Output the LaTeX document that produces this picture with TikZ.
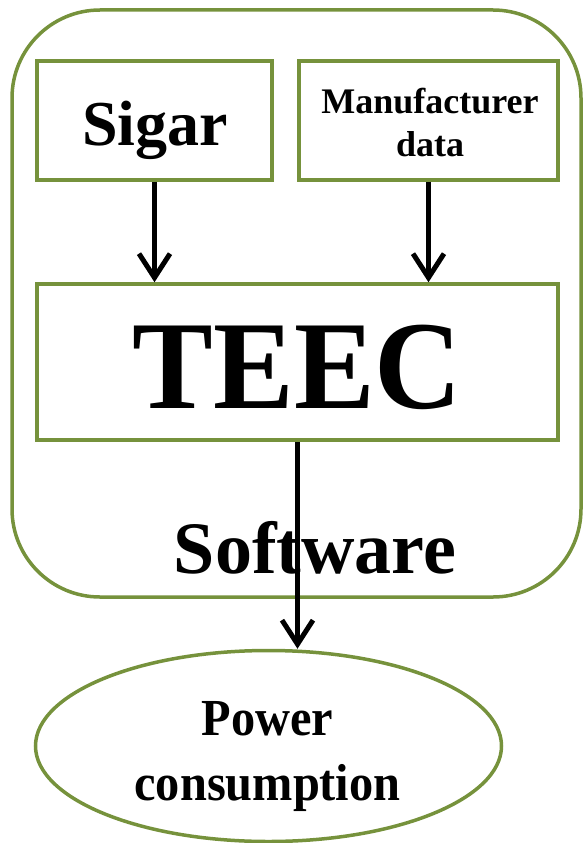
\documentclass[tikz,border=0pt]{standalone}
\usepackage{fontspec}
\setmainfont{Liberation Serif}
\usetikzlibrary{arrows.meta,shapes.geometric}
\definecolor{olive}{RGB}{118,146,60}
\begin{document}
\begin{tikzpicture}[x=1pt,y=-1pt,
  greenbox/.style={draw=olive,line width=3.5pt,inner sep=0pt,rectangle},
  txt/.style={inner sep=0pt,anchor=base,font=\bfseries},
  flow/.style={line width=5pt,-{Straight Barb[length=24pt,width=31pt,line width=5pt]}}]
\useasboundingbox (0,0) rectangle (583,843);
\draw[draw=olive,line width=3.5pt,rounded corners=88pt] (12,10) rectangle (581,597);
\node[greenbox,minimum width=235pt,minimum height=119pt] (sigar) at (154.5,120.5) {};
\node[greenbox,minimum width=259pt,minimum height=119pt] (mfr) at (428.5,120.5) {};
\node[greenbox,minimum width=521pt,minimum height=156pt] (teec) at (297.5,362) {};
\node[draw=olive,line width=3.5pt,ellipse,inner sep=0pt,minimum width=466pt,minimum height=191pt] (pow) at (268.5,746) {};
\node[txt,font=\bfseries\fontsize{64}{64}\selectfont] (sigart) at (155,145) {Sigar};
\node[txt,font=\bfseries\fontsize{36}{36}\selectfont] (mfrt1) at (430,113) {Manufacturer};
\node[txt,font=\bfseries\fontsize{36}{36}\selectfont] (mfrt2) at (430,156) {data};
\node[txt,font=\bfseries\fontsize{126}{126}\selectfont] (teect) at (297.5,408) {\scalebox{0.96}[1]{TEEC}};
\node[txt,font=\bfseries\fontsize{74}{74}\selectfont] (soft) at (315,573) {Software};
\node[txt,font=\bfseries\fontsize{52}{52}\selectfont] (powt1) at (267.5,735) {\scalebox{0.93}[1]{Power}};
\node[txt,font=\bfseries\fontsize{52}{52}\selectfont] (powt2) at (267.5,800) {\scalebox{0.93}[1]{consumption}};
\draw[flow] (sigar.south) -- (sigar.south |- teec.north);
\draw[flow] (mfr.south) -- (mfr.south |- teec.north);
\draw[flow] (teec.south) -- (teec.south |- pow.north);
\end{tikzpicture}
\end{document}
